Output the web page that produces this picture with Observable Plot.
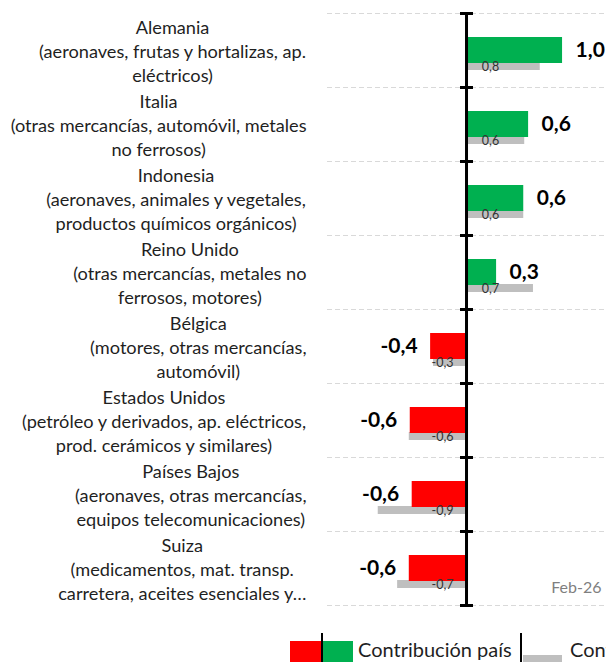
<!DOCTYPE html>
<html><head><meta charset="utf-8">
<script src="https://cdn.jsdelivr.net/npm/d3@7"></script>
<script src="https://cdn.jsdelivr.net/npm/@observablehq/plot@0.6"></script>
<style>
body{margin:0;background:#fff;}
#chart{width:606px;height:662px;overflow:hidden;position:relative;background:#fff;}
#chart svg{display:block;}
</style></head><body><div id="chart"></div>
<script>
const FONT = "Lato";
const countries = ["Alemania","Italia","Indonesia","Reino Unido","Bélgica","Estados Unidos","Países Bajos","Suiza"];
const productLines = [
  ["(aeronaves, frutas y hortalizas, ap.","eléctricos)"],
  ["(otras mercancías, automóvil, metales","no ferrosos)"],
  ["(aeronaves, animales y vegetales,","productos químicos orgánicos)"],
  ["(otras mercancías, metales no","ferrosos, motores)"],
  ["(motores, otras mercancías,","automóvil)"],
  ["(petróleo y derivados, ap. eléctricos,","prod. cerámicos y similares)"],
  ["(aeronaves, otras mercancías,","equipos telecomunicaciones)"],
  ["(medicamentos, mat. transp.","carretera, aceites esenciales y…"]
];
const current  = [0.99, 0.64, 0.59, 0.31, -0.37, -0.58, -0.56, -0.59];
const previous = [0.76, 0.60, 0.59, 0.69, -0.34, -0.59, -0.91, -0.71];
const period = "Feb-26";
const legendLabels = ["Contribución país", "Contribución país (mes anterior)"];

const fmt = v => (v < 0 ? "-" : "") + Math.abs(v).toFixed(1).replace(".", ",");
const ctx = document.createElement("canvas").getContext("2d");
function tw(s, size, weight = "normal") { ctx.font = `${weight} ${size}px ${FONT}`; return ctx.measureText(s).width; }
const labelSize = 100 * 268 / tw("(aeronaves, frutas y hortalizas, ap.", 100);

const rows = countries.map((c, i) => ({i, c, cur: current[i], prev: previous[i]}));
const bounds = d3.range(countries.length + 1);
const ML = 327;

const labelMarks = rows.map(r => {
  const lines = [r.c, ...productLines[r.i]];
  const w = Math.max(...lines.map(s => tw(s, labelSize)));
  const cx = 306 - w / 2;
  return Plot.text([r], {
    y: d => d.i + 0.5, text: () => lines.join("\n"), frameAnchor: "left", dx: cx - ML,
    textAnchor: "middle", lineAnchor: "middle", lineHeight: 24 / labelSize,
    fontSize: labelSize, fill: "#1f1f1f"
  });
});

const plot = Plot.plot({
  width: 606, height: 620,
  marginLeft: ML, marginRight: 0, marginTop: 13, marginBottom: 15,
  x: {domain: [-1.433, 1.443], axis: null},
  y: {domain: [0, countries.length], range: [13, 605], axis: null},
  color: {type: "identity"},
  style: {fontFamily: FONT, background: "white", overflow: "visible"},
  marks: [
    Plot.ruleY(bounds, {stroke: "#d9d9d9", strokeWidth: 1, strokeDasharray: "5,3"}),
    Plot.rect(rows, {x1: 0, x2: "prev", y1: "i", y2: d => d.i + 1, insetTop: 49, insetBottom: 17, fill: "#bfbfbf"}),
    Plot.rect(rows, {x1: 0, x2: "cur", y1: "i", y2: d => d.i + 1, insetTop: 24, insetBottom: 24,
      fill: d => d.cur >= 0 ? "#00b050" : "#ff0000"}),
    Plot.ruleX([0], {y1: 0, y2: countries.length, stroke: "black", strokeWidth: 3}),
    Plot.ruleY(bounds, {x1: 0, x2: 0, insetLeft: -6, insetRight: -7, stroke: "black", strokeWidth: 3}),
    Plot.text(rows, {x: 0, y: d => d.i + 0.5, text: d => fmt(d.prev), dx: 24, dy: 16, filter: d => d.prev >= 0,
      textAnchor: "middle", lineAnchor: "middle", fontSize: 12.5, fill: "#333"}),
    Plot.text(rows, {x: 0, y: d => d.i + 0.5, text: d => fmt(d.prev), dx: -24, dy: 16, filter: d => d.prev < 0,
      textAnchor: "middle", lineAnchor: "middle", fontSize: 12.5, fill: "#333"}),
    Plot.text(rows, {x: "cur", y: d => d.i + 0.5, text: d => fmt(d.cur), dx: 13, filter: d => d.cur >= 0,
      textAnchor: "start", lineAnchor: "middle", fontSize: 21, fontWeight: "bold", fill: "#000"}),
    Plot.text(rows, {x: "cur", y: d => d.i + 0.5, text: d => fmt(d.cur), dx: -13, filter: d => d.cur < 0,
      textAnchor: "end", lineAnchor: "middle", fontSize: 21, fontWeight: "bold", fill: "#000"}),
    Plot.text([period], {text: d => d, frameAnchor: "bottom-right", dx: -5, dy: -18, textAnchor: "end",
      lineAnchor: "middle", fontSize: 16, fill: "#7f7f7f"}),
    ...labelMarks
  ]
});
document.getElementById("chart").appendChild(plot);

// Legend below the chart (clipped at the right edge as in the reference)
const lg = d3.select("#chart").append("svg").attr("width", 606).attr("height", 42)
  .style("font-family", FONT).style("overflow", "hidden");
lg.append("rect").attr("x", 290).attr("y", 21).attr("width", 32).attr("height", 25).attr("fill", "#ff0000");
lg.append("rect").attr("x", 323).attr("y", 21).attr("width", 30).attr("height", 25).attr("fill", "#00b050");
lg.append("line").attr("x1", 322).attr("x2", 322).attr("y1", 13).attr("y2", 42).attr("stroke", "#000").attr("stroke-width", 2);
lg.append("text").attr("x", 358).attr("y", 37).attr("font-size", 20).attr("fill", "#1f1f1f").text(legendLabels[0]);
lg.append("line").attr("x1", 521).attr("x2", 521).attr("y1", 13).attr("y2", 42).attr("stroke", "#000").attr("stroke-width", 2);
lg.append("rect").attr("x", 523).attr("y", 35).attr("width", 39).attr("height", 10).attr("fill", "#bfbfbf");
lg.append("text").attr("x", 570).attr("y", 37).attr("font-size", 20).attr("fill", "#1f1f1f").text(legendLabels[1]);
</script></body></html>
